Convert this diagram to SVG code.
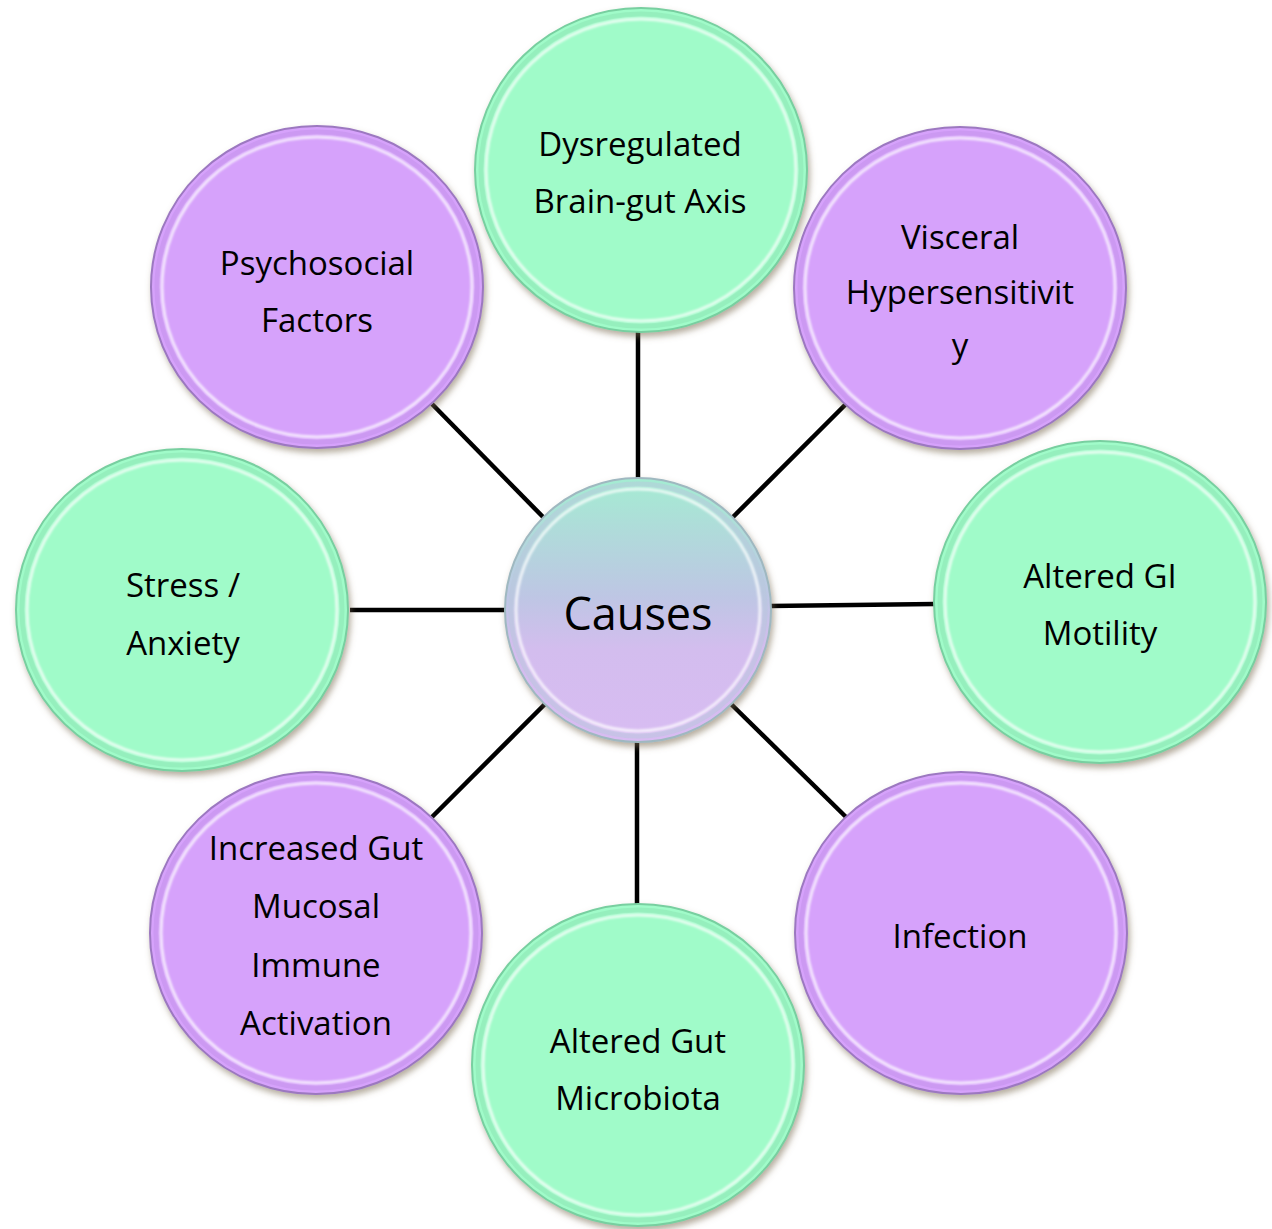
<svg xmlns="http://www.w3.org/2000/svg" width="1272" height="1229" viewBox="0 0 1272 1229">
<defs>
<filter id="shadow" x="-10%" y="-10%" width="125%" height="125%">
<feDropShadow dx="2" dy="4" stdDeviation="3" flood-color="#7a6a50" flood-opacity="0.55"/>
</filter>
<filter id="soft" x="-5%" y="-5%" width="110%" height="110%">
<feGaussianBlur stdDeviation="1.2"/>
</filter>
<linearGradient id="centerFill" x1="0" y1="0" x2="0" y2="1">
<stop offset="0" stop-color="#a4ecd2"/>
<stop offset="0.45" stop-color="#bec6e4"/>
<stop offset="0.65" stop-color="#d3bdee"/>
<stop offset="1" stop-color="#d8bcf2"/>
</linearGradient>
</defs>
<style>
.green .base{fill:#a0fbc9;stroke:#78cfa0;stroke-width:2}
.purple .base{fill:#d6a2fb;stroke:#9c78c0;stroke-width:2}
.center .base{fill:url(#centerFill);stroke:#9fb8c0;stroke-width:2}
.rim{fill:none;stroke:#ffffff;stroke-opacity:0.75;stroke-width:3}
.green .rim2{fill:none;stroke:#8ee8b6;stroke-width:5;stroke-opacity:0.6}
.purple .rim2{fill:none;stroke:#c592ec;stroke-width:5;stroke-opacity:0.6}
.center .rim2{fill:none;stroke:#b8c8dc;stroke-width:5;stroke-opacity:0.5}
text{font-family:"Open Sans","Noto Sans","DejaVu Sans",sans-serif;font-size:33px;fill:#000;text-anchor:middle}
.big{font-size:45px}
.conn line{stroke:#000;stroke-width:4.5}
</style>
<g id="connectors" class="conn">
<line x1="638" y1="330" x2="638" y2="482"/>
<line x1="846" y1="404" x2="731" y2="519"/>
<line x1="770" y1="606" x2="935" y2="604"/>
<line x1="731" y1="704" x2="846" y2="817"/>
<line x1="637" y1="742" x2="637" y2="906"/>
<line x1="545" y1="704" x2="432" y2="817"/>
<line x1="350" y1="610" x2="507" y2="610"/>
<line x1="432" y1="404" x2="545" y2="519"/>
</g>
<g id="n-dysregulated" class="green">
<ellipse class="base" cx="641" cy="170" rx="166" ry="162" filter="url(#shadow)"/>
<ellipse class="rim2" cx="641" cy="170" rx="160" ry="156"/>
<ellipse class="rim" cx="641" cy="170" rx="155" ry="151" filter="url(#soft)"/>
<text x="640" y="156">Dysregulated</text>
<text x="640" y="213">Brain-gut Axis</text>
</g>
<g id="n-visceral" class="purple">
<ellipse class="base" cx="960" cy="288" rx="166" ry="161" filter="url(#shadow)"/>
<ellipse class="rim2" cx="960" cy="288" rx="160" ry="155"/>
<ellipse class="rim" cx="960" cy="288" rx="155" ry="150" filter="url(#soft)"/>
<text x="960" y="249">Visceral</text>
<text x="960" y="304">Hypersensitivit</text>
<text x="960" y="357">y</text>
</g>
<g id="n-psychosocial" class="purple">
<ellipse class="base" cx="317" cy="287" rx="166" ry="161" filter="url(#shadow)"/>
<ellipse class="rim2" cx="317" cy="287" rx="160" ry="155"/>
<ellipse class="rim" cx="317" cy="287" rx="155" ry="150" filter="url(#soft)"/>
<text x="317" y="275">Psychosocial</text>
<text x="317" y="332">Factors</text>
</g>
<g id="n-motility" class="green">
<ellipse class="base" cx="1100" cy="602" rx="166" ry="161" filter="url(#shadow)"/>
<ellipse class="rim2" cx="1100" cy="602" rx="160" ry="155"/>
<ellipse class="rim" cx="1100" cy="602" rx="155" ry="150" filter="url(#soft)"/>
<text x="1100" y="588">Altered GI</text>
<text x="1100" y="645">Motility</text>
</g>
<g id="n-stress" class="green">
<ellipse class="base" cx="182" cy="610" rx="166" ry="161" filter="url(#shadow)"/>
<ellipse class="rim2" cx="182" cy="610" rx="160" ry="155"/>
<ellipse class="rim" cx="182" cy="610" rx="155" ry="150" filter="url(#soft)"/>
<text x="183" y="597">Stress /</text>
<text x="183" y="655">Anxiety</text>
</g>
<g id="n-infection" class="purple">
<ellipse class="base" cx="961" cy="933" rx="166" ry="161" filter="url(#shadow)"/>
<ellipse class="rim2" cx="961" cy="933" rx="160" ry="155"/>
<ellipse class="rim" cx="961" cy="933" rx="155" ry="150" filter="url(#soft)"/>
<text x="960" y="948">Infection</text>
</g>
<g id="n-immune" class="purple">
<ellipse class="base" cx="316" cy="933" rx="166" ry="161" filter="url(#shadow)"/>
<ellipse class="rim2" cx="316" cy="933" rx="160" ry="155"/>
<ellipse class="rim" cx="316" cy="933" rx="155" ry="150" filter="url(#soft)"/>
<text x="316" y="860">Increased Gut</text>
<text x="316" y="918">Mucosal</text>
<text x="316" y="977">Immune</text>
<text x="316" y="1035">Activation</text>
</g>
<g id="n-microbiota" class="green">
<ellipse class="base" cx="638" cy="1065" rx="166" ry="161" filter="url(#shadow)"/>
<ellipse class="rim2" cx="638" cy="1065" rx="160" ry="155"/>
<ellipse class="rim" cx="638" cy="1065" rx="155" ry="150" filter="url(#soft)"/>
<text x="638" y="1053">Altered Gut</text>
<text x="638" y="1110">Microbiota</text>
</g>
<g id="n-causes" class="center">
<ellipse class="base" cx="638" cy="610" rx="133" ry="132" filter="url(#shadow)"/>
<ellipse class="rim2" cx="638" cy="610" rx="127" ry="126"/>
<ellipse class="rim" cx="638" cy="610" rx="122" ry="121" filter="url(#soft)"/>
<text class="big" x="638" y="630">Causes</text>
</g>
</svg>
